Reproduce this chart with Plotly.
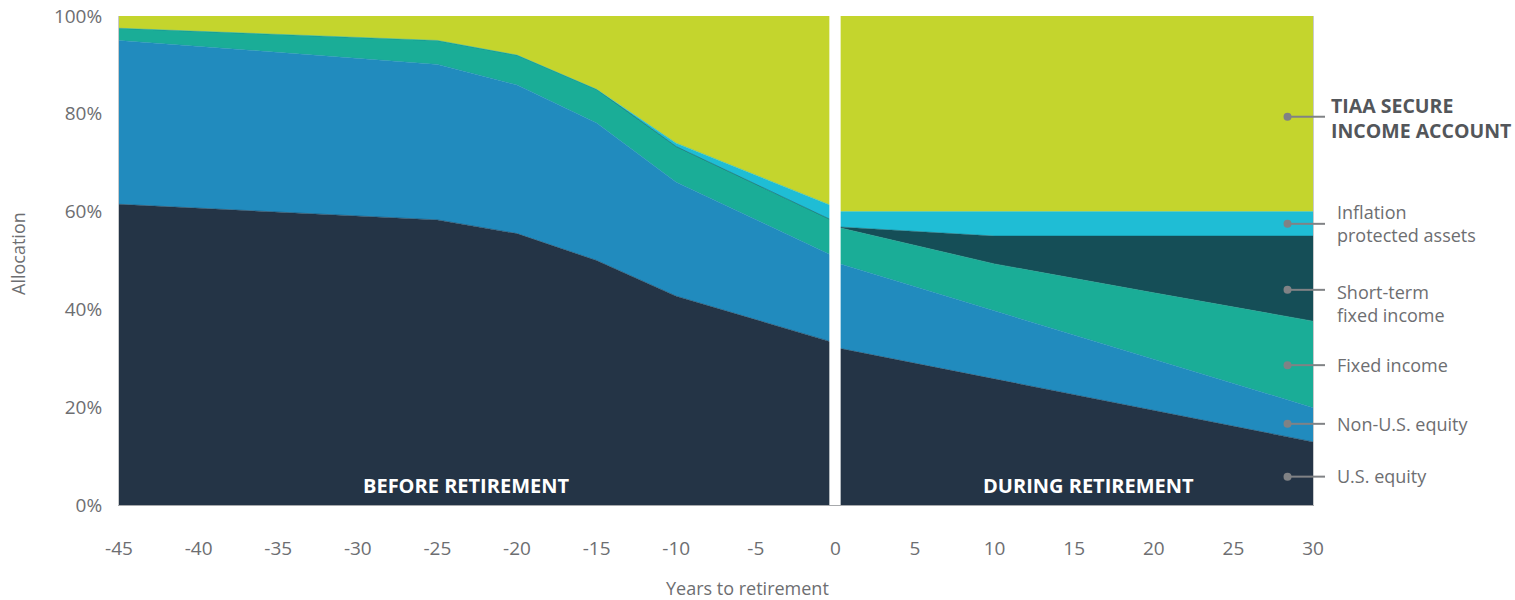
import plotly.graph_objects as go

# ---- data -------------------------------------------------------------
series_names = ["U.S. equity", "Non-U.S. equity", "Fixed income",
                "Short-term fixed income", "Inflation protected assets",
                "TIAA Secure Income Account"]
colors = ["#243446", "#218bbe", "#1aad97", "#154e57", "#1fbdd5", "#c4d52d"]

years_before = [-45, -25, -20, -15, -10, 0]
before_us = [61.5, 58.3, 55.5, 50.0, 42.7, 33.1]
before_nonus = [33.5, 31.8, 30.4, 28.1, 23.3, 17.6]
before_fixed = [2.5, 4.9, 6.1, 6.9, 7.3, 7.2]
before_st = [0, 0, 0, 0, 0, 0]
before_infl = [0, 0, 0, 0, 0.7, 3.0]
before_tiaa = [2.5, 5.0, 8.0, 15.0, 26.0, 39.1]

years_during = [0, 10, 20, 30]
during_us = [32.2, 25.8, 19.4, 12.9]
during_nonus = [17.4, 13.9, 10.4, 7.0]
during_fixed = [7.3, 9.6, 13.6, 17.7]
during_st = [0, 5.7, 11.6, 17.4]
during_infl = [3.1, 5.0, 5.0, 5.0]
during_tiaa = [40.0, 40.0, 40.0, 40.0]

label_texts = ["<b>TIAA SECURE<br>INCOME ACCOUNT</b>", "Inflation<br>protected assets",
               "Short-term<br>fixed income", "Fixed income", "Non-U.S. equity", "U.S. equity"]
label_y = [79.2, 57.6, 41.3, 28.6, 16.6, 5.9]
dot_y = [79.4, 57.5, 44.0, 28.6, 16.6, 5.8]
dot_x = 28.4

x_ticks = list(range(-45, 31, 5))
y_ticks = [0, 20, 40, 60, 80, 100]

# ---- figure -----------------------------------------------------------
fig = go.Figure()
before = [before_us, before_nonus, before_fixed, before_st, before_infl, before_tiaa]
during = [during_us, during_nonus, during_fixed, during_st, during_infl, during_tiaa]
for name, col, vals in zip(series_names, colors, before):
    fig.add_trace(go.Scatter(x=years_before, y=vals, name=name, stackgroup="before",
                             mode="lines", line=dict(width=0.5, color=col),
                             fillcolor=col, showlegend=False, hoverinfo="skip"))
for name, col, vals in zip(series_names, colors, during):
    fig.add_trace(go.Scatter(x=years_during, y=vals, name=name, stackgroup="during",
                             mode="lines", line=dict(width=0.5, color=col),
                             fillcolor=col, showlegend=False, hoverinfo="skip"))

# legend dots
fig.add_trace(go.Scatter(x=[dot_x] * len(dot_y), y=dot_y, mode="markers",
                         marker=dict(color="#808285", size=8), cliponaxis=False,
                         showlegend=False, hoverinfo="skip"))

shapes = [dict(type="rect", xref="x", yref="y", x0=-0.38, x1=0.33, y0=0, y1=100,
               fillcolor="white", line=dict(width=0), layer="above")]
plot_l, plot_r = 119, 1313
def px_to_paper(px):
    return (px - plot_l) / (plot_r - plot_l)
for yv in dot_y:
    shapes.append(dict(type="line", xref="x", yref="y", x0=dot_x, x1=30, y0=yv, y1=yv,
                       line=dict(color="#808285", width=2), layer="above"))
    shapes.append(dict(type="line", xref="paper", yref="y", x0=1.0, x1=px_to_paper(1325),
                       y0=yv, y1=yv, line=dict(color="#808285", width=2)))

annotations = []
for i, (t, yv) in enumerate(zip(label_texts, label_y)):
    annotations.append(dict(x=px_to_paper(1329 if i == 0 else 1335), y=yv, xref="paper",
                            yref="y", text=t,
                            showarrow=False, xanchor="left", yanchor="middle", align="left",
                            font=dict(size=19.5 if i == 0 else 18,
                                      color="#53565a" if i == 0 else "#6d6e71")))
annotations.append(dict(x=-23.2, y=3.9, xref="x", yref="y", text="<b>BEFORE RETIREMENT</b>",
                        showarrow=False, font=dict(size=20, color="white")))
annotations.append(dict(x=15.9, y=3.9, xref="x", yref="y", text="<b>DURING RETIREMENT</b>",
                        showarrow=False, font=dict(size=20, color="white")))
annotations.append(dict(x=px_to_paper(747.5), y=(505 - 588) / 489, xref="paper", yref="paper",
                        text="Years to retirement", showarrow=False,
                        font=dict(size=18, color="#6d6e71"), yanchor="middle"))
annotations.append(dict(x=px_to_paper(18), y=(505 - 254) / 489, xref="paper", yref="paper",
                        text="Allocation", showarrow=False, textangle=-90,
                        font=dict(size=18, color="#6d6e71"), xanchor="center", yanchor="middle"))

fig.update_layout(
    width=1515, height=600,
    margin=dict(l=119, r=1515 - 1313, t=16, b=95, autoexpand=False),
    paper_bgcolor="white", plot_bgcolor="white",
    font=dict(family="Open Sans, Liberation Sans, sans-serif", color="#6d6e71"),
    shapes=shapes, annotations=annotations, showlegend=False,
    xaxis=dict(range=[-45, 30], tickvals=x_ticks, ticktext=[str(v) for v in x_ticks],
               showgrid=False, zeroline=False, showline=True, linecolor="#a7a9ac",
               linewidth=1, ticks="", tickfont=dict(size=19, color="#6d6e71"),
               ticklabelstandoff=26, automargin=False),
    yaxis=dict(range=[0, 100], tickvals=y_ticks, ticktext=[f"{v}%" for v in y_ticks],
               showgrid=False, zeroline=False, showline=True, mirror=True,
               linecolor="#c8cacc", linewidth=1, ticks="",
               tickfont=dict(size=19, color="#6d6e71"), ticklabelstandoff=12,
               automargin=False),
)

fig.write_html("out.html", config={"displayModeBar": False},
               post_script="document.body.style.margin='0';document.body.style.overflow='hidden';")
